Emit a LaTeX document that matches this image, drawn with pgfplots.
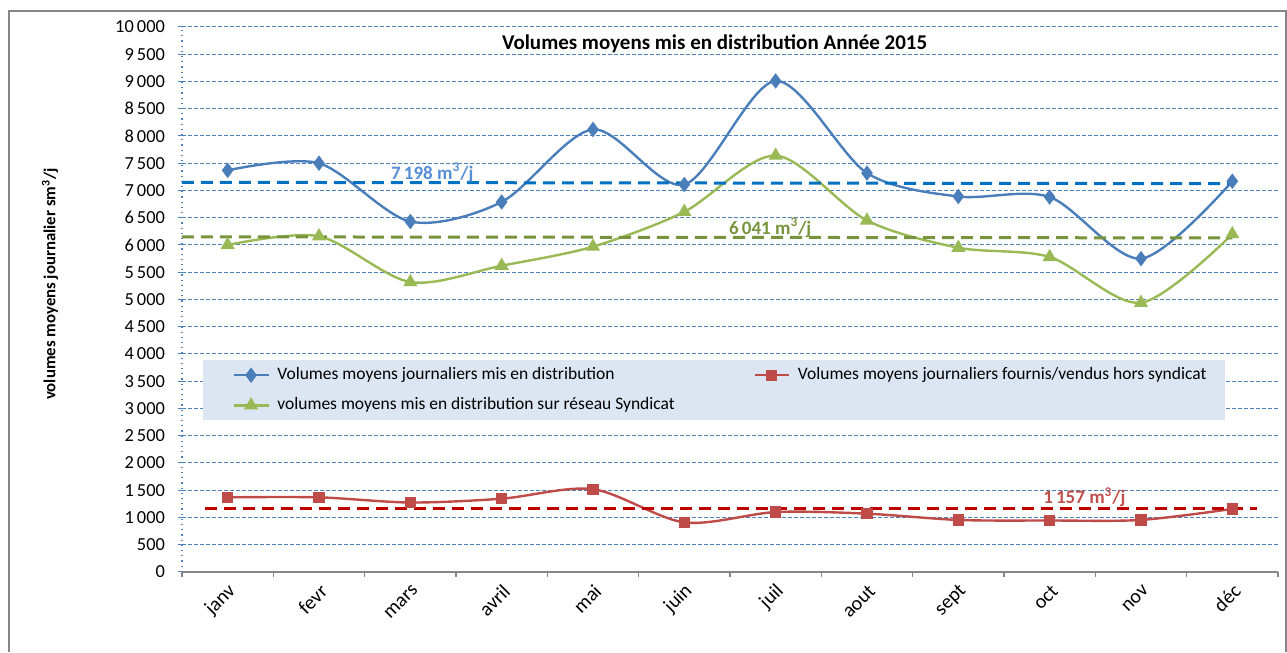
\documentclass[border=0pt]{standalone}
\usepackage{fontspec}
\setmainfont{Carlito}
\usepackage{pgfplots}
\pgfplotsset{compat=1.18}
\definecolor{serblue}{HTML}{4A7EBB}
\definecolor{serred}{HTML}{BE4B48}
\definecolor{sergreen}{HTML}{98B954}
\definecolor{avgblue}{HTML}{0070C0}
\definecolor{avggreen}{HTML}{77933C}
\definecolor{avgred}{HTML}{C00000}
\definecolor{lblblue}{HTML}{558ED5}
\definecolor{lblred}{HTML}{C0504D}
\definecolor{gridblue}{HTML}{4F81BD}
\definecolor{legfill}{HTML}{DCE6F2}
\definecolor{framegray}{HTML}{868686}

\begin{document}
\begin{tikzpicture}
\begin{axis}[
  scale only axis,
  width=548pt, height=272.5pt,
  xmin=-0.5, xmax=11.5, ymin=0, ymax=10000,
  clip=false,
  axis x line*=bottom, axis y line*=left,
  x axis line style={-, draw=framegray, line width=0.6pt},
  y axis line style={-, draw=gridblue, dotted, line width=0.6pt},
  tick align=outside,
  xtick={0,...,11},
  xticklabels={janv,fevr,mars,avril,mai,juin,juil,aout,sept,oct,nov,déc},
  major x tick style={draw=none},
  minor xtick={-0.5,0.5,...,11.5},
  minor x tick style={draw=framegray, line width=0.6pt},
  minor tick length=2.5pt,
  ytick={0,500,...,10000},
  y tick style={draw=gridblue, line width=0.5pt},
  major tick length=2pt,
  scaled y ticks=false,
  /pgf/number format/assume math mode=true,
  y tick label style={/pgf/number format/1000 sep={\,}, font=\fontsize{9.2}{11}\selectfont, xshift=-3pt},
  x tick label style={rotate=45, anchor=east, font=\fontsize{10}{12}\selectfont, yshift=-6pt, xshift=1pt},
  ymajorgrids,
  major grid style={draw=gridblue, dash pattern=on 2pt off 1pt, line width=0.5pt},
  legend columns=2,
  legend cell align=left,
  legend style={at={(rel axis cs:0.046,0.383)}, anchor=north west, draw=none, fill=none,
    font=\fontsize{8.75}{11}\selectfont, inner sep=0pt,
    /tikz/every odd column/.append style={column sep=2pt},
    row sep=3.5pt},
]
% legend background
\fill[legfill] (rel axis cs:0.019,0.389) rectangle (rel axis cs:0.9516,0.279);

\addplot[serblue, line width=1.2pt, smooth, mark=diamond*, mark size=2.9pt, mark options={solid}]
  coordinates {(0,7370) (1,7500) (2,6430) (3,6790) (4,8120) (5,7110) (6,9010) (7,7320) (8,6890) (9,6880) (10,5750) (11,7170)};
\addlegendentry{\makebox[236pt][l]{Volumes moyens journaliers mis en distribution}}

\addplot[serred, line width=1.2pt, smooth, mark=square*, mark size=2.2pt, mark options={solid}]
  coordinates {(0,1370) (1,1370) (2,1275) (3,1345) (4,1520) (5,910) (6,1100) (7,1070) (8,955) (9,945) (10,955) (11,1157)};
\addlegendentry{Volumes moyens journaliers fournis/vendus hors syndicat}

\addplot[sergreen, line width=1.2pt, smooth, mark=triangle*, mark size=2.9pt, mark options={solid}]
  coordinates {(0,6000) (1,6160) (2,5320) (3,5620) (4,5970) (5,6610) (6,7640) (7,6450) (8,5950) (9,5780) (10,4940) (11,6200)};
\addlegendentry{\makebox[236pt][l]{volumes moyens mis en distribution sur réseau Syndicat}}

% average lines
\addplot[avgblue, line width=1.5pt, dash pattern=on 6pt off 3.5pt, forget plot]
  coordinates {(-0.5,7150) (11,7125)};
\addplot[avggreen, line width=1.5pt, dash pattern=on 6pt off 3.5pt, forget plot]
  coordinates {(-0.5,6150) (11,6130)};
\addplot[avgred, line width=1.5pt, dash pattern=on 6pt off 3.5pt, forget plot]
  coordinates {(-0.25,1160) (11.27,1160)};

\node[lblblue, font=\bfseries\fontsize{9.5}{11}\selectfont] at (axis cs:2.24,7330) {7\,198 m\textsuperscript{3}/j};
\node[avggreen, font=\bfseries\fontsize{9.5}{11}\selectfont] at (axis cs:5.94,6320) {6\,041 m\textsuperscript{3}/j};
\node[lblred, font=\bfseries\fontsize{9.5}{11}\selectfont] at (axis cs:9.38,1370) {1\,157 m\textsuperscript{3}/j};

\node[font=\bfseries\fontsize{10.5}{12}\selectfont] at (rel axis cs:0.486,0.969) {Volumes moyens mis en distribution Année 2015};
\end{axis}
% y label
\node[rotate=90, font=\bfseries\fontsize{8.4}{10}\selectfont] at (-66pt,144pt) {volumes moyens journalier sm\textsuperscript{3}/j};
% chart frame
\draw[framegray, line width=0.8pt] (-86.5pt,-40pt) -- (-86.5pt,280.5pt) -- (552pt,280.5pt) -- (552pt,-40pt);
\useasboundingbox (-91pt,-38pt) rectangle (552.5pt,286pt);
\end{tikzpicture}
\end{document}
